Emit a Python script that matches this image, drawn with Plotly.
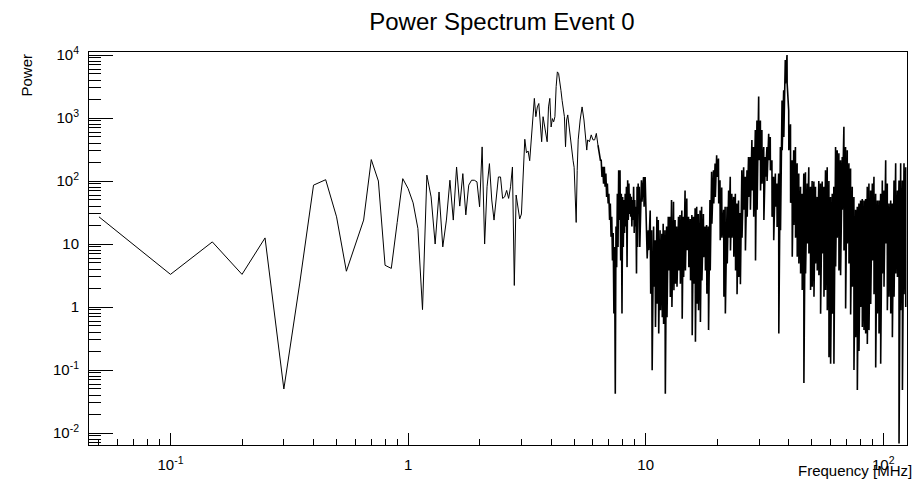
import plotly.graph_objects as go

# ---------------- data ----------------
# single-valued part of the spectrum (0.05 MHz grid)
low_freq = [0.05, 0.10, 0.15, 0.20, 0.25, 0.30, 0.35, 0.40, 0.45, 0.50,
            0.55, 0.60, 0.65, 0.70, 0.75, 0.80, 0.85, 0.90, 0.95, 1.00,
            1.05, 1.10, 1.15, 1.20, 1.25, 1.30, 1.35, 1.40, 1.45, 1.50,
            1.55, 1.60, 1.65, 1.70, 1.75, 1.80, 1.85, 1.90, 1.95, 2.00,
            2.05, 2.10, 2.15, 2.20, 2.25, 2.30, 2.35, 2.40, 2.45, 2.50,
            2.55, 2.60, 2.65, 2.70, 2.75, 2.80, 2.85, 2.90, 2.95, 3.00,
            3.05, 3.10, 3.15, 3.20, 3.25, 3.30, 3.35, 3.40, 3.45, 3.50,
            3.55, 3.60, 3.65, 3.70, 3.75, 3.80, 3.85, 3.90, 3.95, 4.00,
            4.05, 4.10, 4.15, 4.20, 4.25, 4.30, 4.35, 4.40, 4.45, 4.50,
            4.55, 4.60, 4.65, 4.70, 4.75, 4.80, 4.85, 4.90, 4.95, 5.00,
            5.05, 5.10, 5.15, 5.20, 5.30, 5.40, 5.50, 5.60, 5.65, 5.70,
            5.80, 5.90, 6.00, 6.10, 6.20, 6.30]
low_power = [27, 3.3, 10.8, 3.3, 12.5, 0.05, 2.4, 86, 105, 27,
             3.7, 9.8, 24, 219, 100, 4.6, 4.1, 22, 109, 76,
             45, 17.6, 0.91, 124, 56, 10, 67, 9, 24, 103,
             24, 167, 40, 131, 29, 86, 103, 103, 97, 39,
             348, 10, 81, 189, 50, 24, 56, 116, 116, 53,
             56, 71, 53, 81, 167, 2.2, 60, 39, 25, 30,
             150, 460, 280, 300, 210, 500, 1300, 2050, 1050, 1500,
             1700, 810, 420, 1050, 770, 500, 420, 1500, 2050, 720,
             980, 870, 1050, 3150, 5400, 5100, 4000, 2750, 1900, 1400,
             1050, 350, 930, 1120, 770, 500, 370, 275, 210, 165,
             44, 22, 148, 450, 930, 1500, 930, 500, 310, 450,
             420, 540, 450, 450, 570, 370]

# dense part: for each frequency the upper reading, and the lower reading
# of the next grid sample (frequency + one 0.05 MHz step)
band_freq = [6.4, 6.5, 6.6, 6.7, 6.8, 6.9, 7.0, 7.1, 7.2, 7.3,
             7.4, 7.5, 7.6, 7.7, 7.8, 7.9, 8.0, 8.1, 8.2, 8.3,
             8.4, 8.5, 8.6, 8.7, 8.8, 8.9, 9.0, 9.1, 9.2, 9.3, 9.4,
             9.6, 9.8, 9.95, 10.1, 10.25, 10.45, 10.6, 10.8, 10.95, 11.15,
             11.3, 11.5, 11.7, 11.85, 12.05, 12.25, 12.45, 12.65, 12.85, 13.1,
             13.3, 13.5, 13.75, 13.95, 14.2, 14.4, 14.65, 14.9, 15.15, 15.4,
             15.65, 15.9, 16.15, 16.4, 16.65, 16.95, 17.2, 17.5, 17.8, 18.05,
             18.35, 18.65, 18.95, 19.3, 19.6, 19.9, 20.25, 20.55,
             20.9, 21.3, 21.6, 22.0, 22.35, 22.7, 23.05, 23.45, 23.85, 24.2,
             24.6, 25.0, 25.4, 25.85, 26.25, 26.7, 27.1, 27.55, 28.0, 28.45,
             28.95, 29.4, 29.9, 30.4, 30.85, 31.4, 31.9, 32.4, 32.95, 33.45,
             34.0, 34.55, 35.15, 35.7, 36.3, 36.9, 37.5, 38.1, 38.7, 39.35, 40.0,
             40.7, 41.35, 42.0, 42.7, 43.4, 44.1, 44.85, 45.55, 46.3, 47.05,
             47.85, 48.6, 49.4, 50.2, 51.05, 51.85, 52.7, 53.55, 54.45, 55.35,
             56.25, 57.15, 58.1, 59.05, 60.0, 61.0, 61.95, 63.0, 64.0, 65.05,
             66.1, 67.2, 68.3, 69.4, 70.55, 71.7,
             72.85, 74.05, 75.25, 76.5, 77.75, 79.0, 80.3, 81.6, 82.95, 84.3,
             85.65, 87.05, 88.5, 89.95, 91.4, 92.9, 94.4, 95.95, 97.5, 99.1,
             100.7, 102.4, 104.0, 105.7, 107.5, 109.2, 111.0, 112.8, 114.7, 116.5,
             118.4, 120.4, 122.3, 124.3]
band_high = [273, 214, 168, 168, 131, 91, 63, 44, 27, 15,
             9, 19, 63, 148, 148, 63, 56, 50, 63, 81,
             103, 91, 63, 56, 50, 81, 50, 39, 81, 91, 81,
             103, 116, 116, 11.5, 16.5, 34, 16.5, 19, 11.5, 27,
             24, 16.5, 14.6, 21, 16.5, 19, 27, 27, 50, 47,
             24, 19, 27, 29, 34, 27, 71, 53, 27, 25,
             29, 27, 37, 39, 30, 34, 39, 30, 19, 20,
             19, 50, 140, 148, 189, 257, 228, 103,
             79, 35, 39, 39, 71, 117, 63, 56, 63, 44,
             49, 31, 148, 166, 117, 148, 240, 240, 447, 347,
             646, 910, 2190, 910, 646, 347, 240, 347, 562, 500,
             214, 117, 132, 91, 132, 347, 1900, 2750, 8300, 10000, 1320,
             794, 214, 309, 347, 191, 132, 81, 63, 132, 138,
             91, 166, 81, 100, 98, 81, 56, 100, 91, 98,
             81, 148, 166, 100, 56, 63, 81, 347, 309, 275,
             214, 240, 724, 347, 309, 191,
             158, 81, 56, 35, 39, 44, 49, 52, 49, 52,
             81, 91, 71, 91, 117, 63, 49, 49, 63, 102,
             71, 214, 91, 44, 49, 44, 102, 191, 71, 102,
             191, 102, 191, 166]
band_low = [214, 116, 91, 81, 56, 44, 24, 13, 5.5, 0.79,
            0.042, 4.3, 9, 24, 5.5, 0.79, 9, 15, 19, 4.3,
            24, 30, 27, 19, 24, 15, 19, 3.4, 9, 34, 9,
            47, 39, 50, 5.9, 8, 1.63, 0.099, 2.1, 0.48, 1.13,
            0.38, 0.89, 0.69, 0.54, 0.042, 0.69, 3.8, 1.44, 1.0, 1.84,
            2.35, 2.1, 3.8, 2.35, 0.65, 3.0, 3.8, 8, 4.3, 2.65,
            0.355, 2.35, 0.28, 1.13, 0.89, 0.58, 2.65, 6.2, 3.8, 1.63,
            0.43, 3.8, 21, 44, 56, 116, 44, 11.5,
            12.6, 1.45, 0.79, 4.9, 12.6, 7.9, 12.6, 6.3, 3.8, 1.6,
            3.0, 2.3, 12.6, 35, 7.9, 27, 56, 35, 71, 27,
            5.5, 35, 214, 71, 91, 24, 117, 100, 214, 148,
            27, 11.5, 39, 18.6, 0.38, 16.6, 309, 500, 3550, 3550, 309,
            45, 6.3, 20, 12.6, 6.3, 4.9, 3.4, 1.86, 0.062, 3.4,
            10.2, 7.1, 1.86, 2.1, 1.45, 4.9, 3.8, 3.2, 0.78, 7.1,
            1.45, 1.86, 0.89, 0.16, 0.126, 0.78, 0.126, 4.4, 12.6, 3.8,
            3.2, 35, 7.9, 0.95, 10.2, 4.9,
            0.76, 2.1, 0.1, 0.33, 0.048, 0.2, 1.0, 0.48, 0.43, 0.38,
            0.26, 0.43, 1.12, 5.5, 1.6, 0.11, 0.79, 0.38, 0.126, 3.4,
            2.1, 10.2, 0.89, 1.45, 0.79, 0.33, 1.45, 3.4, 3.0, 0.0068,
            0.89, 0.048, 1.6, 1.0]
GRID_STEP = 0.05

x_tickvals = [0.1, 1, 10, 100]
x_ticktext = ["10<sup>-1</sup>", "1", "10", "10<sup>2</sup>"]
y_tickvals = [0.01, 0.1, 1, 10, 100, 1000, 10000]
y_ticktext = ["10<sup>-2</sup>", "10<sup>-1</sup>", "1", "10",
              "10<sup>2</sup>", "10<sup>3</sup>", "10<sup>4</sup>"]

# ---------------- assemble the series ----------------
# dense part (starts from the last single-valued sample for continuity)
band_x = [low_freq[-1]]
band_y = [low_power[-1]]
for f, hi, lo in zip(band_freq, band_high, band_low):
    band_x += [f, round(f + GRID_STEP, 2)]
    band_y += [hi, lo]

# minor tick positions (log-axis sub-decades)
x_minor = [m * 10.0 ** e for e in range(-2, 2) for m in range(2, 10)
           if 0.045 < m * 10.0 ** e < 126]
y_minor = [m * 10.0 ** e for e in range(-3, 4) for m in range(2, 10)
           if 0.0065 < m * 10.0 ** e < 11000]

FONT = "Liberation Sans, Arial, Helvetica, sans-serif"

fig = go.Figure()
fig.add_trace(go.Scatter(x=low_freq, y=low_power, mode="lines",
                         line=dict(color="black", width=1),
                         hoverinfo="x+y", showlegend=False))
fig.add_trace(go.Scatter(x=band_x, y=band_y, mode="lines",
                         line=dict(color="black", width=1.6),
                         hoverinfo="x+y", showlegend=False))

fig.update_layout(
    width=917, height=483,
    margin=dict(l=89, r=10, t=52, b=38),
    paper_bgcolor="white", plot_bgcolor="white",
    font=dict(family=FONT, color="black", size=15),
    title=dict(text="Power Spectrum Event 0", x=502 / 917, xref="container",
               xanchor="center", y=1 - 22 / 483, yref="container",
               yanchor="middle", font=dict(size=24, family=FONT, color="black")),
    xaxis=dict(type="log", range=[-1.343, 2.100],
               showline=True, linecolor="black", linewidth=1, mirror=True,
               showgrid=False, zeroline=False,
               tickmode="array", tickvals=x_tickvals, ticktext=x_ticktext,
               ticks="inside", ticklen=12, tickcolor="black", tickwidth=1,
               ticklabelstandoff=6,
               tickfont=dict(size=15, family=FONT, color="black"),
               minor=dict(tickmode="array", tickvals=x_minor, ticks="inside",
                          ticklen=6, tickcolor="black", tickwidth=1,
                          showgrid=False)),
    yaxis=dict(type="log", range=[-2.19, 4.048],
               showline=True, linecolor="black", linewidth=1, mirror=True,
               showgrid=False, zeroline=False,
               tickmode="array", tickvals=y_tickvals, ticktext=y_ticktext,
               ticks="inside", ticklen=24, tickcolor="black", tickwidth=1,
               ticklabelstandoff=6,
               tickfont=dict(size=15, family=FONT, color="black"),
               minor=dict(tickmode="array", tickvals=y_minor, ticks="inside",
                          ticklen=12, tickcolor="black", tickwidth=1,
                          showgrid=False)),
    annotations=[
        dict(text="Power", textangle=-90, xref="paper", yref="paper",
             x=(26 - 89) / 818, y=1.0, xanchor="center", yanchor="top",
             showarrow=False, font=dict(size=15, family=FONT, color="black")),
        dict(text="Frequency [MHz]", xref="paper", yref="paper",
             x=(914 - 89) / 818, y=(445 - 470) / 393, xanchor="right",
             yanchor="middle", showarrow=False,
             font=dict(size=15, family=FONT, color="black")),
    ],
)

fig.write_html("out.html")
